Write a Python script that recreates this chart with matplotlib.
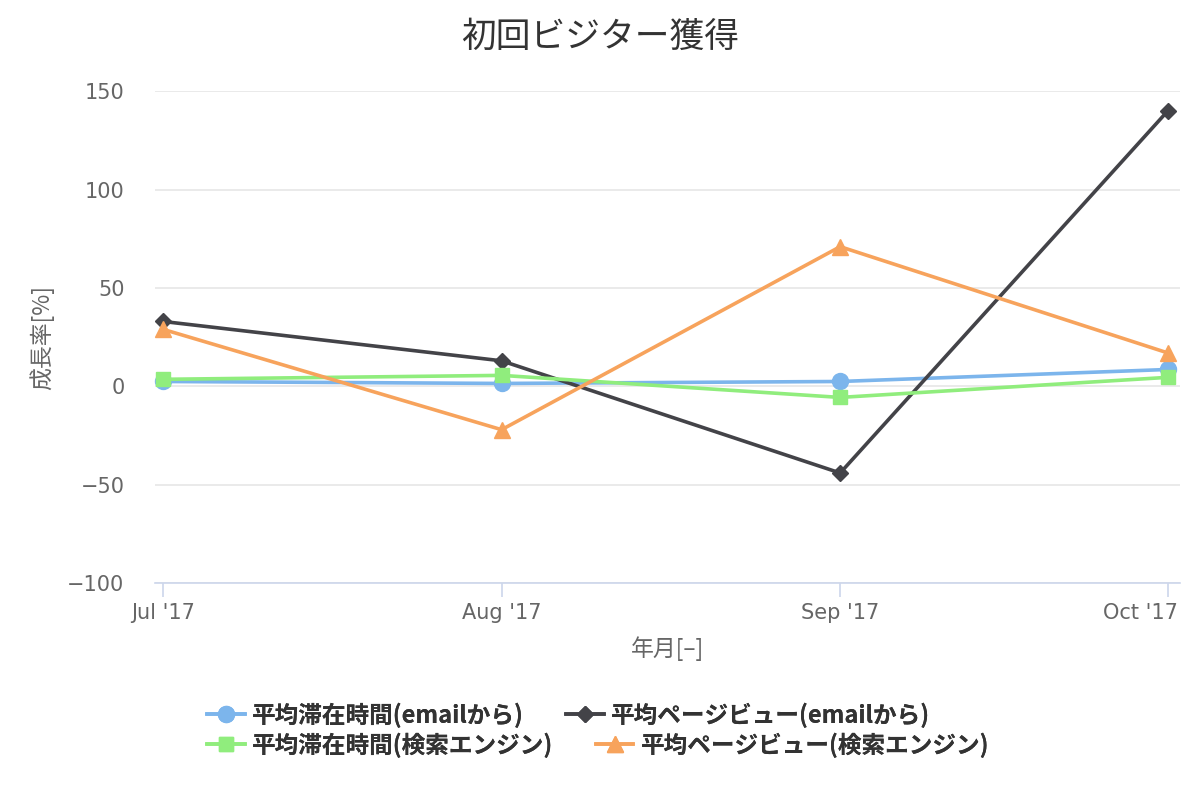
import matplotlib.pyplot as plt
import matplotlib.transforms as mtransforms
import numpy as np

plt.rcParams['font.family'] = ['Noto Sans CJK JP', 'DejaVu Sans']

# データ
month_dates = ['2017-07-01', '2017-08-01', '2017-09-01', '2017-10-01']
months = ["Jul '17", "Aug '17", "Sep '17", "Oct '17"]
stay_email = [2.5, 1.5, 2.5, 8.6]
pv_email = [33, 13, -44, 140]
stay_search = [3.6, 5.6, -5.6, 4.6]
pv_search = [29, -22, 71, 17]

series = [
    ('平均滞在時間(emailから)', stay_email, '#7cb5ec', 'o', 11.5),
    ('平均ページビュー(emailから)', pv_email, '#434348', 'D', 8),
    ('平均滞在時間(検索エンジン)', stay_search, '#90ed7d', 's', 10.5),
    ('平均ページビュー(検索エンジン)', pv_search, '#f7a35c', '^', 11.5),
]

# 日付軸（月の日数で間隔が変わる）
d = np.array(month_dates, dtype='datetime64[D]')
x = (d - d[0]).astype(int)

fig = plt.figure(figsize=(12, 8), dpi=100)
ax = fig.add_axes([0.1292, 0.271, 0.854, 0.615])

handles = []
for name, vals, color, marker, ms in series:
    h, = ax.plot(x, vals, color=color, marker=marker, markersize=ms,
                 linewidth=2.6, label=name, clip_on=False)
    handles.append(h)

ax.set_xlim(-0.73, 93.1)
ax.set_ylim(-100, 150)
ax.set_yticks([-100, -50, 0, 50, 100, 150])
ax.set_xticks(x)
ax.set_xticklabels(months)

ax.grid(axis='y', color='#e6e6e6', linewidth=1.2)
ax.set_axisbelow(True)
for s in ['top', 'right', 'left']:
    ax.spines[s].set_visible(False)
ax.spines['bottom'].set_color('#ccd6eb')
ax.spines['bottom'].set_linewidth(1.2)
ax.tick_params(axis='y', length=0, pad=22, labelsize=15, labelcolor='#666666')
ax.tick_params(axis='x', length=10, color='#ccd6eb', width=1.2, labelsize=15,
               labelcolor='#666666', pad=4)
for lbl in ax.get_xticklabels() + ax.get_yticklabels():
    lbl.set_family(['DejaVu Sans'])
last = ax.get_xticklabels()[-1]
last.set_ha('right')
last.set_transform(last.get_transform() +
                   mtransforms.ScaledTranslation(0.1, 0, fig.dpi_scale_trans))

fig.text(0.5, 1 - 37 / 800, '初回ビジター獲得', fontsize=25, color='#333333',
         ha='center', va='center')
ax.set_ylabel('成長率[%]', fontsize=16.5, color='#666666')
ax.yaxis.set_label_coords(-0.098, 0.5)
ax.set_xlabel('年月[–]', fontsize=16.5, color='#666666', labelpad=10)

rows = [[0, 1], [2, 3]]
row_y = [1 - 715 / 800, 1 - 745 / 800]
for r, yy in zip(rows, row_y):
    leg = fig.legend([handles[i] for i in r], [series[i][0] for i in r],
                     loc='center left', bbox_to_anchor=(207 / 1200, yy), ncol=2,
                     frameon=False, fontsize=17, handlelength=1.6,
                     columnspacing=1.8, handletextpad=0.3,
                     borderpad=0, borderaxespad=0)
    for t in leg.get_texts():
        t.set_color('#333333')
        t.set_fontweight('bold')
    fig.add_artist(leg)

fig.savefig('out.png', dpi=100)
